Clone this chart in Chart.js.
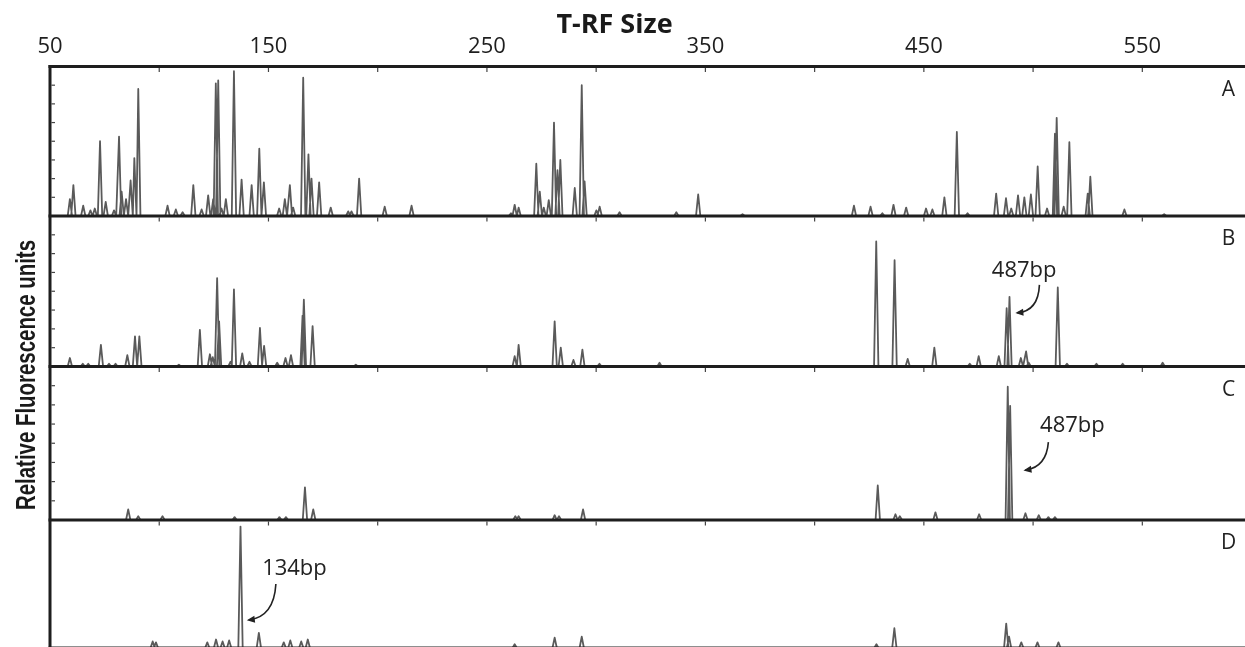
<!DOCTYPE html>
<html>
<head>
<meta charset="utf-8">
<title>T-RF profiles</title>
<script src="https://cdn.jsdelivr.net/npm/chart.js@4.4.1/dist/chart.umd.min.js"></script>
<style>
  html, body { margin: 0; padding: 0; background: #fff; overflow: hidden; }
  #wrap { position: relative; width: 1245px; height: 652px; }
</style>
</head>
<body>
<div id="wrap"><canvas id="trfChart" width="1245" height="652"></canvas></div>
<script>
// axis ticks
const xTickLabels = [50, 150, 250, 350, 450, 550];
const xTickMarks = [100, 150, 200, 250, 300, 350, 400, 450, 500, 550];
const yTickMarks = [1, 2, 3, 4, 5, 6, 7];
const panelNames = ["A", "B", "C", "D"];

// peaks: T-RF size (bp) and height (relative units)
const sizesA = [59.1, 60.7, 65.2, 68.5, 70.5, 72.9, 75.5, 79.3, 81.6, 82.8, 84.8, 86.9, 88.6, 90.4,
  103.8, 107.6, 110.7, 115.6, 119.4, 122.4, 124.7, 125.9, 127.0, 128.5, 130.5, 134.2, 137.7, 142.3,
  145.8, 147.9, 154.9, 157.5, 159.8, 161.3, 165.9, 168.3, 169.7, 173.2, 178.5, 186.5, 188.0, 191.5,
  203.2, 215.5, 261.0, 262.7, 264.5, 272.6, 274.2, 276.0, 278.3, 280.7, 282.3, 283.6, 290.2, 293.4,
  294.7, 300.1, 301.6, 310.7, 336.7, 346.7, 367.0, 418.0, 425.6, 431.0, 436.1, 441.9, 451.0, 453.9,
  459.4, 465.1, 470.0, 483.1, 487.6, 490.0, 493.1, 496.0, 499.0, 502.1, 506.4, 510.0, 510.8, 514.0,
  516.6, 525.0, 526.2, 541.8, 560.0];
const heightsA = [0.9, 1.65, 0.55, 0.3, 0.4, 4.0, 0.75, 0.3, 4.25, 1.3, 0.9, 1.9, 3.1, 6.8,
  0.55, 0.35, 0.2, 1.65, 0.35, 1.1, 0.9, 7.1, 7.25, 0.4, 0.9, 7.75, 1.95, 1.65,
  3.6, 1.8, 0.4, 0.9, 1.65, 0.45, 7.4, 3.3, 2.0, 1.8, 0.45, 0.25, 0.25, 2.0,
  0.5, 0.55, 0.15, 0.6, 0.45, 2.8, 1.3, 0.45, 0.85, 5.0, 2.45, 3.0, 1.5, 7.0,
  1.85, 0.3, 0.5, 0.2, 0.2, 1.15, 0.1, 0.55, 0.5, 0.15, 0.6, 0.45, 0.4, 0.35,
  1.0, 4.5, 0.15, 1.2, 0.95, 0.4, 1.1, 1.0, 1.15, 2.65, 0.4, 4.4, 5.25, 0.5,
  3.95, 1.2, 2.1, 0.35, 0.1];

const sizesB = [59.1, 65.0, 67.5, 73.3, 77.0, 80.0, 85.4, 88.9, 90.9, 109.0, 118.6, 123.2, 124.5,
  126.5, 127.4, 132.6, 134.2, 138.0, 141.3, 146.1, 148.0, 154.0, 157.8, 160.3, 165.6, 166.2, 170.2,
  190.0, 262.7, 264.5, 281.0, 283.8, 289.6, 293.7, 301.5, 329.0, 428.2, 436.6, 442.6, 454.8, 471.0,
  475.1, 484.3, 487.9, 489.2, 494.4, 496.8, 498.0, 511.3, 515.5, 529.0, 541.0, 559.3];
const heightsB = [0.45, 0.15, 0.15, 1.15, 0.15, 0.15, 0.6, 1.6, 1.6, 0.1, 1.95, 0.65, 0.5,
  4.7, 2.4, 0.25, 4.1, 0.7, 0.25, 2.05, 1.1, 0.2, 0.45, 0.6, 2.7, 3.55, 2.15,
  0.1, 0.55, 1.15, 2.4, 1.0, 0.35, 0.9, 0.15, 0.2, 6.65, 5.65, 0.4, 1.0, 0.15,
  0.55, 0.55, 3.1, 3.7, 0.45, 0.8, 0.2, 4.2, 0.15, 0.15, 0.15, 0.2];

const sizesC = [85.8, 90.4, 101.5, 134.5, 155.0, 158.0, 166.7, 170.5, 263.0, 264.5, 281.0, 283.0,
  294.0, 428.9, 437.0, 439.0, 455.3, 475.3, 488.4, 489.5, 496.5, 502.6, 507.0, 510.0];
const heightsC = [0.55, 0.2, 0.2, 0.15, 0.15, 0.15, 1.7, 0.55, 0.2, 0.2, 0.25, 0.2,
  0.55, 1.8, 0.3, 0.2, 0.4, 0.3, 6.95, 5.95, 0.35, 0.25, 0.15, 0.15];

const sizesD = [97.0, 98.5, 122.0, 126.0, 129.0, 132.0, 137.2, 145.6, 157.0, 160.0, 165.0, 168.0,
  262.7, 281.0, 293.4, 428.3, 436.5, 487.7, 489.0, 494.6, 502.0, 511.6];
const heightsD = [0.35, 0.3, 0.3, 0.45, 0.35, 0.4, 6.45, 0.8, 0.3, 0.4, 0.35, 0.45,
  0.2, 0.55, 0.6, 0.2, 1.05, 1.3, 0.6, 0.3, 0.3, 0.3];

const panelSizes = [sizesA, sizesB, sizesC, sizesD];
const panelHeights = [heightsA, heightsB, heightsC, heightsD];

// layout
const X_MIN = 50, X_MAX = 597;
const PEAK_HALF = 1.0;
const panelWeights = [149.5, 150.5, 153.5, 128];
const panelMax = [8, 8, 8, 6.8];
const TRACE = "#5a5a5a";
const INK = "#1e1e1e";

// labelled peaks (text position and arrow in data units of that panel)
const notes = [
  { panel: "B", text: "487bp", at: [495.9, 4.76], arrow: [[502.9, 4.34], [502.4, 2.95], [492.8, 2.85]] },
  { panel: "C", text: "487bp", at: [518.0, 4.58], arrow: [[507.0, 4.06], [506.1, 2.76], [496.5, 2.6]] },
  { panel: "D", text: "134bp", at: [161.9, 3.88], arrow: [[153.4, 3.4], [152.5, 1.65], [141.0, 1.49]] }
];

// electropherogram-like trace: baseline with a narrow spike for each peak
function buildTrace(sizes, heights) {
  const pts = [{ x: X_MIN, y: 0 }];
  sizes.forEach((s, i) => {
    pts.push({ x: s - PEAK_HALF, y: 0 }, { x: s, y: heights[i] }, { x: s + PEAK_HALF, y: 0 });
  });
  pts.push({ x: X_MAX, y: 0 });
  return pts;
}

function panelAxis(i) {
  return {
    type: "linear",
    position: "left",
    stack: "panels",
    stackWeight: panelWeights[i],
    weight: 4 - i,
    min: 0,
    max: panelMax[i],
    grid: { display: false, drawTicks: false },
    border: { display: false },
    ticks: { display: false },
    afterFit(scale) { scale.width = 50; }
  };
}

function line(ctx, x1, y1, x2, y2) {
  ctx.beginPath();
  ctx.moveTo(x1, y1);
  ctx.lineTo(x2, y2);
  ctx.stroke();
}

// frame, inner ticks, titles, panel letters and peak labels
const trfDecor = {
  id: "trfDecor",
  afterDatasetsDraw(chart) {
    const { ctx, chartArea, scales } = chart;
    const x = scales.x;
    ctx.save();

    // small tick marks inside each panel
    ctx.strokeStyle = "#444";
    ctx.lineWidth = 1.2;
    panelNames.forEach((name, i) => {
      const y = scales["y" + name];
      xTickMarks.forEach(v => {
        const px = x.getPixelForValue(v);
        line(ctx, px, y.top + 1.5, px, y.top + 5.5);
      });
      if (i < 3) {
        yTickMarks.forEach(v => {
          const py = y.getPixelForValue(v);
          line(ctx, chartArea.left + 1.5, py, chartArea.left + 5, py);
        });
      }
    });

    // thick frame lines
    ctx.strokeStyle = INK;
    ctx.lineWidth = 3;
    line(ctx, chartArea.left - 1.5, chartArea.top, chartArea.right, chartArea.top);
    panelNames.forEach(name => {
      const y = scales["y" + name];
      line(ctx, chartArea.left - 1.5, y.bottom, chartArea.right, y.bottom);
    });
    line(ctx, chartArea.left, chartArea.top - 1.5, chartArea.left, chartArea.bottom + 1.5);

    // panel letters
    ctx.fillStyle = "#222";
    ctx.font = "21px 'Open Sans'";
    ctx.textAlign = "center";
    ctx.textBaseline = "middle";
    panelNames.forEach(name => {
      const y = scales["y" + name];
      ctx.fillText(name, chartArea.right - 16.5, y.top + 23.5);
    });

    // peak labels with curved arrows
    ctx.font = "22px 'Open Sans'";
    ctx.textBaseline = "alphabetic";
    ctx.strokeStyle = "#222";
    ctx.lineWidth = 1.6;
    notes.forEach(n => {
      const y = scales["y" + n.panel];
      ctx.fillText(n.text, x.getPixelForValue(n.at[0]), y.getPixelForValue(n.at[1]));
      const p = n.arrow.map(a => [x.getPixelForValue(a[0]), y.getPixelForValue(a[1])]);
      ctx.beginPath();
      ctx.moveTo(p[0][0], p[0][1]);
      ctx.quadraticCurveTo(p[1][0], p[1][1], p[2][0], p[2][1]);
      ctx.stroke();
      const ang = Math.atan2(p[2][1] - p[1][1], p[2][0] - p[1][0]);
      ctx.beginPath();
      ctx.moveTo(p[2][0] + 2 * Math.cos(ang), p[2][1] + 2 * Math.sin(ang));
      ctx.lineTo(p[2][0] - 6 * Math.cos(ang) - 3.5 * Math.sin(ang), p[2][1] - 6 * Math.sin(ang) + 3.5 * Math.cos(ang));
      ctx.lineTo(p[2][0] - 6 * Math.cos(ang) + 3.5 * Math.sin(ang), p[2][1] - 6 * Math.sin(ang) - 3.5 * Math.cos(ang));
      ctx.closePath();
      ctx.fill();
    });

    // x axis title
    ctx.fillStyle = "#1a1a1a";
    ctx.font = "bold 27px 'Open Sans'";
    ctx.textAlign = "center";
    ctx.fillText("T-RF Size", chart.width / 2 - 8, 33);

    // y axis title, condensed to the reference width
    ctx.font = "bold 27px 'Liberation Sans Narrow', 'Liberation Sans', sans-serif";
    const yTitle = "Relative Fluorescence units";
    const w = ctx.measureText(yTitle).width;
    ctx.translate(35, 375);
    ctx.rotate(-Math.PI / 2);
    ctx.scale(270 / w, 1);
    ctx.fillText(yTitle, 0, 0);

    ctx.restore();
  }
};

const scales = {
  x: {
    type: "linear",
    position: "top",
    min: X_MIN,
    max: X_MAX,
    grid: { display: false, drawTicks: false },
    border: { display: false },
    ticks: {
      font: { family: "Open Sans", size: 22 },
      color: "#1e1e1e",
      padding: 7,
      maxRotation: 0,
      autoSkip: false
    },
    afterBuildTicks(scale) { scale.ticks = xTickLabels.map(v => ({ value: v })); },
    afterFit(scale) { scale.height = 66.5; }
  }
};
panelNames.forEach((name, i) => { scales["y" + name] = panelAxis(i); });

const ctx = document.getElementById("trfChart").getContext("2d");
new Chart(ctx, {
  type: "line",
  data: {
    datasets: panelNames.map((name, i) => ({
      label: name,
      data: buildTrace(panelSizes[i], panelHeights[i]),
      yAxisID: "y" + name,
      borderColor: TRACE,
      borderWidth: 1.8,
      borderJoinStyle: "round",
      pointRadius: 0,
      tension: 0,
      fill: false
    }))
  },
  options: {
    responsive: false,
    animation: false,
    layout: { padding: { left: 0, right: 0, top: 0, bottom: 4 } },
    plugins: {
      legend: { display: false },
      tooltip: { enabled: false }
    },
    scales: scales
  },
  plugins: [trfDecor]
});
</script>
</body>
</html>
